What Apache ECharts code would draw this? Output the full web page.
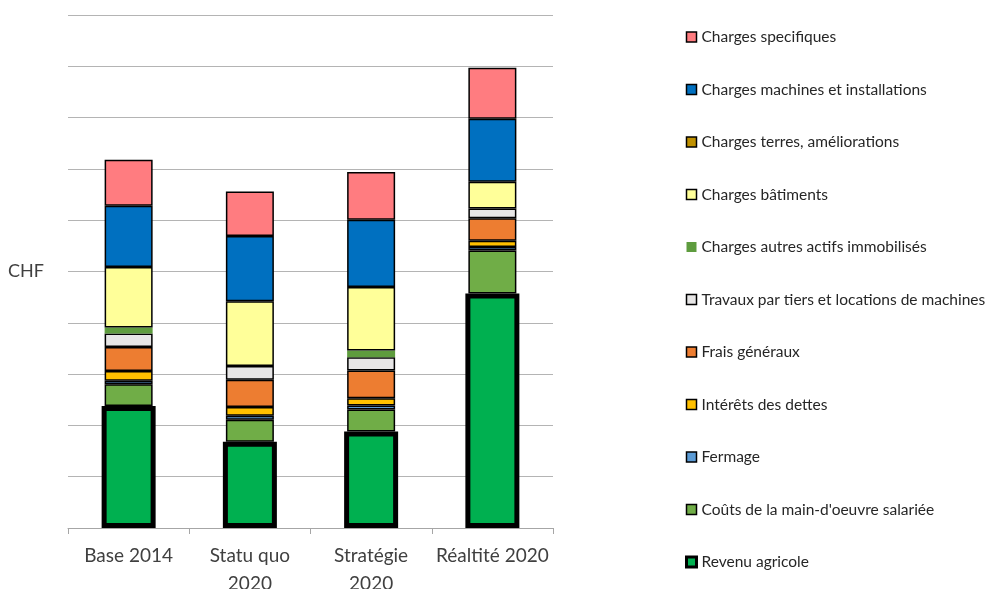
<!DOCTYPE html>
<html>
<head>
<meta charset="utf-8">
<script src="https://cdn.jsdelivr.net/npm/echarts@6/dist/echarts.min.js"></script>
<style>
  html, body { margin: 0; padding: 0; background: #ffffff; }
  #chart { width: 990px; height: 589px; }
</style>
</head>
<body>
<div id="chart"></div>
<script>
// Scenarios on the category axis
const categories = ['Base 2014', 'Statu quo\n2020', 'Stratégie\n2020', 'Réaltité 2020'];

// Stacked components (values in thousands of CHF), bottom to top
const revenuAgricole      = [23.8, 16.8, 18.8, 45.7];
const mainOeuvreSalariee  = [4.2, 4.3, 4.3, 8.4];
const fermage             = [0.7, 0.8, 0.8, 0.7];
const interetsDettes      = [1.9, 1.7, 1.4, 1.2];
const fraisGeneraux       = [4.7, 5.3, 5.4, 4.4];
const travauxTiers        = [2.6, 2.7, 2.6, 1.9];
const autresActifs        = [1.2, 0, 1.3, 0];
const chargesBatiments    = [11.8, 12.6, 12.4, 5.2];
const chargesTerres       = [0, 0, 0, 0];
const chargesMachines     = [11.9, 12.7, 13.1, 12.3];
const chargesSpecifiques  = [9.0, 8.7, 9.3, 9.9];

// Value axis ticks (labels hidden)
const axisMax = 100;
const axisInterval = 10;

const FONT = 'Lato, "Open Sans", sans-serif';

const REVENU = { name: 'Revenu agricole', data: revenuAgricole, color: '#00B050', border: 5 };

const costDefs = [
  { name: "Coûts de la main-d'oeuvre salariée", data: mainOeuvreSalariee, color: '#70AD47', border: 1.5 },
  { name: 'Fermage', data: fermage, color: '#5B9BD5', border: 1.5 },
  { name: 'Intérêts des dettes', data: interetsDettes, color: '#FFC000', border: 1.5 },
  { name: 'Frais généraux', data: fraisGeneraux, color: '#ED7D31', border: 1.5 },
  { name: 'Travaux par tiers et locations de machines', data: travauxTiers, color: '#E7E6E6', border: 1.5 },
  { name: 'Charges autres actifs immobilisés', data: autresActifs, color: '#5E9C3E', border: 0 },
  { name: 'Charges bâtiments', data: chargesBatiments, color: '#FFFF99', border: 1.5 },
  { name: 'Charges terres, améliorations', data: chargesTerres, color: '#BF9000', border: 1.5 },
  { name: 'Charges machines et installations', data: chargesMachines, color: '#0070C0', border: 1.5 },
  { name: 'Charges specifiques', data: chargesSpecifiques, color: '#FF7C80', border: 1.5 }
];

const toData = arr => arr.map(v => (v === 0 ? '-' : v));

const series = [
  // invisible base so the cost stack starts on top of the income
  {
    name: 'base',
    type: 'bar',
    stack: 'total',
    barWidth: 48,
    data: revenuAgricole,
    itemStyle: { color: 'rgba(0,0,0,0)', borderWidth: 0 },
    silent: true
  }
].concat(costDefs.map(d => ({
  name: d.name,
  type: 'bar',
  stack: 'total',
  barWidth: 48,
  data: toData(d.data),
  itemStyle: { color: d.color, borderColor: '#000000', borderWidth: d.border },
  emphasis: { disabled: true }
}))).concat([
  // income drawn wider, with its heavy outline
  {
    name: REVENU.name,
    type: 'bar',
    xAxisIndex: 1,
    barWidth: 54,
    z: 3,
    data: REVENU.data,
    itemStyle: { color: REVENU.color, borderColor: '#000000', borderWidth: REVENU.border },
    emphasis: { disabled: true }
  }
]);

const legendData = costDefs.slice().reverse().concat([REVENU]).map(d => ({
  name: d.name,
  icon: 'rect',
  itemStyle: {
    color: d.color,
    borderColor: '#000000',
    borderWidth: d.border === 0 ? 0 : (d.border > 2 ? 3 : 1.5)
  }
}));

const chart = echarts.init(document.getElementById('chart'), null, { renderer: 'canvas' });

chart.setOption({
  animation: false,
  backgroundColor: '#ffffff',
  grid: { left: 68, right: 437, top: 15, bottom: 61, containLabel: false, outerBoundsMode: 'none' },
  legend: {
    orient: 'vertical',
    left: 680,
    top: 24,
    itemWidth: 10,
    itemHeight: 10,
    itemGap: 36.5,
    selectedMode: false,
    textStyle: { fontFamily: FONT, fontSize: 15.5, color: '#262626', lineHeight: 16 },
    data: legendData
  },
  xAxis: [
    {
      type: 'category',
      data: categories,
      axisLine: { show: true, lineStyle: { color: '#A6A6A6', width: 1 } },
      axisTick: { show: true, length: 6, lineStyle: { color: '#A6A6A6' } },
      axisLabel: {
        fontFamily: FONT,
        fontSize: 19,
        color: '#404040',
        lineHeight: 28,
        margin: 14,
        interval: 0
      }
    },
    {
      type: 'category',
      data: categories,
      show: false
    }
  ],
  yAxis: {
    type: 'value',
    min: 0,
    max: axisMax,
    interval: axisInterval,
    name: 'CHF',
    nameLocation: 'middle',
    nameRotate: 0,
    nameGap: 24,
    nameTextStyle: { fontFamily: FONT, fontSize: 18, color: '#404040' },
    axisLine: { show: false },
    axisTick: { show: false },
    axisLabel: { show: false },
    splitLine: { show: true, lineStyle: { color: '#B4B4B4', width: 1 } }
  },
  series: series
});
</script>
</body>
</html>
